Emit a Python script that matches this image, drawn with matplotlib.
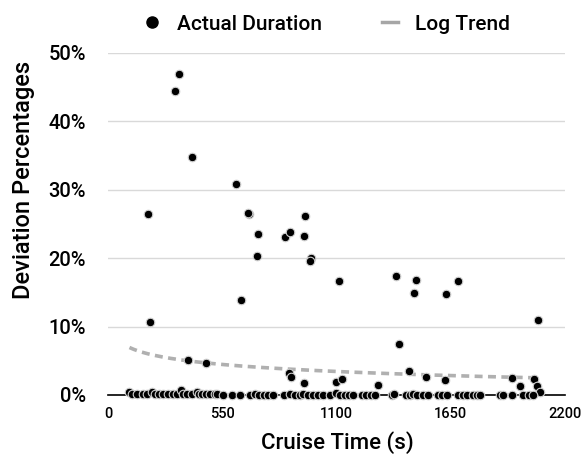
import numpy as np
import matplotlib.pyplot as plt
from matplotlib.lines import Line2D

plt.rcParams['font.family'] = ['Roboto', 'DejaVu Sans']

# cruise time (s) and deviation (%)
cruise_time = [340, 324, 403, 616, 194, 677, 674, 946, 723, 852, 874, 945, 717, 977, 974,
               1112, 640, 200, 387, 472, 873, 879, 945, 1099, 1127, 1386, 1484, 1471, 1627,
               1686, 2069, 1400, 1449, 1532, 1622, 1301, 1944, 2050, 1984, 2066, 2080,
               103, 115, 141, 167, 186, 210, 226, 247, 266, 290, 311, 333, 349, 362, 382,
               403, 427, 438, 451, 472, 491, 515, 523, 555, 595, 635, 683, 707, 728, 751,
               771, 795, 847, 876, 900, 924, 940, 964, 988, 1012, 1033, 1068, 1097, 1116,
               1141, 1161, 1181, 1221, 1241, 1268, 1284, 1365, 1376, 1434, 1453, 1469, 1489,
               1517, 1541, 1589, 1606, 1630, 1686, 1710, 1730, 1758, 1774, 1790, 1886, 1902,
               1943, 1999, 2028, 2047]
deviation = [47.0, 44.5, 34.8, 30.8, 26.5, 26.4, 26.6, 26.1, 23.5, 23.1, 23.8, 23.3, 20.3,
             20.0, 19.6, 16.6, 13.9, 10.7, 5.1, 4.7, 3.2, 2.6, 1.7, 1.9, 2.4, 17.4, 16.8,
             14.9, 14.7, 16.7, 11.0, 7.5, 3.5, 2.6, 2.2, 1.4, 2.5, 2.4, 1.3, 1.3, 0.4,
             0.5, 0.1, 0.2, 0.1, 0.2, 0.5, 0.1, 0.2, 0.1, 0.2, 0.1, 0.1, 0.8, 0.1, 0.2,
             0.1, 0.4, 0.1, 0.2, 0.1, 0.1, 0.1, 0.1, 0.0, 0.0, 0.0, 0.0, 0.1, 0.0, 0.0,
             0.0, 0.0, 0.0, 0.1, 0.0, 0.0, 0.1, 0.0, 0.0, 0.0, 0.0, 0.0, 0.3, 0.0,
             0.0, 0.0, 0.0, 0.0, 0.0, 0.0, 0.0, 0.0, 0.1, 0.0, 0.0, 0.1, 0.0,
             0.0, 0.0, 0.0, 0.0, 0.0, 0.0, 0.0, 0.0, 0.0, 0.0, 0.0, 0.0, 0.0,
             0.0, 0.0, 0.0, 0.0]

# log trend y = a + b*ln(x), coefficients
trend_a = 13.8
trend_b = -1.48

x_ticks = [0, 550, 1100, 1650, 2200]
y_ticks = [0, 10, 20, 30, 40, 50]

x = np.array(cruise_time, dtype=float)
y = np.array(deviation, dtype=float)

tx = np.linspace(x.min(), x.max(), 200)
ty = trend_a + trend_b * np.log(tx)

fig = plt.figure(figsize=(5.81, 4.58), dpi=100)
ax = fig.add_axes([0.186, 0.1376, 0.7865, 0.7467])

ax.plot(tx, ty, color='#b0b0b0', lw=2.6, dashes=(2.2, 1.5), zorder=2)
ax.scatter(x, y, s=38, color='black', edgecolors='#d0d0d0', linewidths=0.8,
           zorder=3, clip_on=False)

ax.set_xlim(0, 2200)
ax.set_ylim(0, 50)
ax.set_xticks(x_ticks)
ax.set_xticklabels([str(t) for t in x_ticks], fontsize=10.5, fontweight='medium')
ax.set_yticks(y_ticks)
ax.set_yticklabels([f'{t}%' for t in y_ticks], fontsize=14.5, fontweight='medium')
ax.tick_params(axis='y', length=0, pad=16)
ax.tick_params(axis='x', length=0, pad=9)
ax.grid(axis='y', color='#d9d9d9', lw=1)
ax.set_axisbelow(True)
for s in ['left', 'right', 'top']:
    ax.spines[s].set_visible(False)
ax.spines['bottom'].set_color('black')
ax.spines['bottom'].set_linewidth(1.2)

ax.set_xlabel('Cruise Time (s)', fontsize=16, fontweight='medium', va='top')
ax.xaxis.set_label_coords(0.501, -0.107)
ax.set_ylabel('Deviation Percentages', fontsize=17, fontweight='medium', va='center')
ax.yaxis.set_label_coords(-0.186, 0.629)

handles = [Line2D([], [], marker='o', ls='none', color='black', markersize=8),
           Line2D([], [], color='#a6a6a6', lw=2.5)]
fig.legend(handles, ['Actual Duration', 'Log Trend'], loc='center', bbox_to_anchor=(0.563, 0.947),
           ncol=2, frameon=False, handlelength=0.75, columnspacing=2.9,
           handletextpad=0.8, prop={'weight': 'medium', 'size': 15})

fig.savefig('out.png', dpi=100)
